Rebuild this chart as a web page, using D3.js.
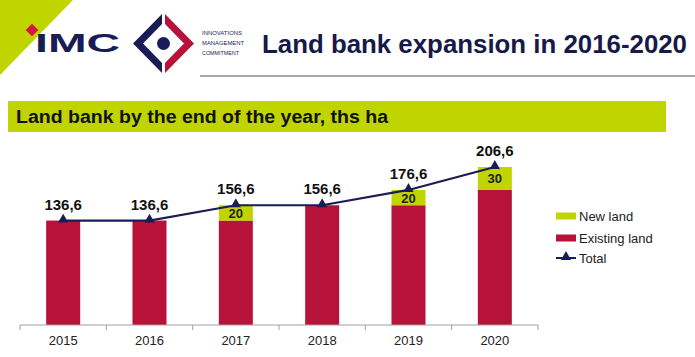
<!DOCTYPE html>
<html>
<head>
<meta charset="utf-8">
<script src="https://cdn.jsdelivr.net/npm/d3@7"></script>
<style>
  html, body { margin: 0; padding: 0; background: #fff; }
  svg { display: block; }
  text { font-family: "Liberation Sans", Arial, sans-serif; }
</style>
</head>
<body>
<svg id="chart" width="695" height="357"></svg>
<script>
const years = ["2015", "2016", "2017", "2018", "2019", "2020"];
const existingLand = [136.6, 136.6, 136.6, 156.6, 156.6, 176.6];
const newLand = [0, 0, 20, 0, 20, 30];
const totalLand = [136.6, 136.6, 156.6, 156.6, 176.6, 206.6];
const seriesNames = ["New land", "Existing land", "Total"];
const pageTitle = "Land bank expansion in 2016-2020";
const chartTitle = "Land bank by the end of the year, ths ha";

const GREEN = "#c0d400", RED = "#b7133a", NAVY = "#1a1c55";

const svg = d3.select("#chart");
svg.append("rect").attr("width", 695).attr("height", 357).attr("fill", "#fff");

// decorative header
svg.append("polygon").attr("points", "0,0 73,0 0,75").attr("fill", GREEN);
svg.append("line").attr("x1", 200).attr("x2", 695).attr("y1", 76).attr("y2", 76)
  .attr("stroke", "#a4a7ab").attr("stroke-width", 2);

// logo
const logo = svg.append("g");
logo.append("rect").attr("x", -4.5).attr("y", -4.5).attr("width", 9).attr("height", 9)
  .attr("fill", "#d2163e").attr("transform", "translate(32,30) rotate(45)");
logo.append("text").attr("x", 35).attr("y", 52).text("IMC")
  .attr("font-family", "'DejaVu Sans', sans-serif").attr("font-weight", "bold")
  .attr("font-size", 25).attr("fill", NAVY)
  .attr("textLength", 85).attr("lengthAdjust", "spacingAndGlyphs");
logo.append("polygon").attr("points", "162,14 133,43.5 162,73 162,63 143,43.5 162,24").attr("fill", NAVY);
logo.append("polygon").attr("points", "165,14 194,43.5 165,73 165,63 184,43.5 165,24").attr("fill", RED);
logo.append("circle").attr("cx", 163.5).attr("cy", 43.5).attr("r", 6.5).attr("fill", NAVY);
[["INNOVATIONS", 35, 40], ["MANAGEMENT", 45, 42], ["COMMITMENT", 55, 37]].forEach(([t, y, w]) => {
  logo.append("text").attr("x", 202).attr("y", y).text(t)
    .attr("font-size", 6).attr("fill", NAVY)
    .attr("textLength", w).attr("lengthAdjust", "spacingAndGlyphs");
});

svg.append("text").attr("x", 262).attr("y", 53).text(pageTitle)
  .attr("font-size", 25).attr("font-weight", "bold").attr("fill", "#171a48")
  .attr("textLength", 425).attr("lengthAdjust", "spacingAndGlyphs");

// subtitle band
svg.append("rect").attr("x", 8).attr("y", 101).attr("width", 658).attr("height", 31).attr("fill", GREEN);
svg.append("text").attr("x", 16).attr("y", 123).text(chartTitle)
  .attr("font-size", 18).attr("font-weight", "bold").attr("fill", "#111")
  .attr("textLength", 372).attr("lengthAdjust", "spacingAndGlyphs");

// chart
const x = d3.scaleBand().domain(years).range([20, 538]).paddingInner(0.606).paddingOuter(0.303);
const y = d3.scaleLinear().domain([0, 206.6]).range([325, 167]);
const fmt = v => d3.format(".1f")(v).replace(".", ",");

const rows = years.map((yr, i) => ({ yr, ex: existingLand[i], nw: newLand[i], tot: totalLand[i] }));
const stack = d3.stack().keys(["ex", "nw"])(rows);
const colors = { ex: RED, nw: GREEN };

stack.forEach(layer => {
  svg.append("g").selectAll("rect").data(layer).join("rect")
    .attr("x", d => x(d.data.yr))
    .attr("width", x.bandwidth())
    .attr("y", d => y(d[1]))
    .attr("height", d => y(d[0]) - y(d[1]))
    .attr("fill", colors[layer.key]);
});

// new land labels
svg.append("g").selectAll("text").data(rows.filter(r => r.nw > 0)).join("text")
  .attr("x", d => x(d.yr) + x.bandwidth() / 2)
  .attr("y", d => y(d.ex + d.nw / 2) + 5)
  .attr("text-anchor", "middle").attr("font-size", 13).attr("font-weight", "bold").attr("fill", "#222")
  .text(d => d.nw);

// axis
const axisG = svg.append("g").attr("transform", "translate(0,325)");
const axis = d3.axisBottom(x).tickSize(0).tickPadding(10);
axisG.call(axis);
axisG.select(".domain").remove();
axisG.append("line").attr("x1", 20).attr("x2", 538).attr("stroke", "#a0a0a0");
const bounds = years.map(yr => x(yr) - x.step() * x.paddingInner() / 2).concat([538]);
axisG.selectAll(".bt").data(bounds).join("line").attr("class", "bt")
  .attr("x1", d => d).attr("x2", d => d).attr("y1", 0).attr("y2", 5).attr("stroke", "#a0a0a0");
axisG.selectAll(".tick text").attr("font-size", 13).attr("fill", "#222")
  .attr("font-family", "'Liberation Sans', Arial, sans-serif").attr("dy", "0.71em").attr("y", 11);

// total line
const cx = yr => x(yr) + x.bandwidth() / 2;
svg.append("path").datum(rows)
  .attr("d", d3.line().x(d => cx(d.yr)).y(d => y(d.tot)))
  .attr("fill", "none").attr("stroke", NAVY).attr("stroke-width", 2.2);
const tri = d3.symbol().type(d3.symbolTriangle).size(45);
svg.append("g").selectAll("path").data(rows).join("path")
  .attr("d", tri).attr("transform", d => `translate(${cx(d.yr)},${y(d.tot) - 1})`).attr("fill", NAVY);
svg.append("g").selectAll("text").data(rows).join("text")
  .attr("x", d => cx(d.yr)).attr("y", d => y(d.tot) - 11)
  .attr("text-anchor", "middle").attr("font-size", 15).attr("font-weight", "bold").attr("fill", "#111")
  .text(d => fmt(d.tot));

// legend
const lg = svg.append("g").attr("transform", "translate(556,0)");
const legY = [216, 238, 258];
lg.append("rect").attr("x", 0).attr("y", legY[0] - 3.5).attr("width", 20).attr("height", 7).attr("fill", GREEN);
lg.append("rect").attr("x", 0).attr("y", legY[1] - 3.5).attr("width", 20).attr("height", 7).attr("fill", RED);
lg.append("line").attr("x1", 0).attr("x2", 20).attr("y1", legY[2]).attr("y2", legY[2]).attr("stroke", NAVY).attr("stroke-width", 2);
lg.append("path").attr("d", tri).attr("transform", `translate(10,${legY[2] - 1})`).attr("fill", NAVY);
seriesNames.forEach((n, i) => {
  lg.append("text").attr("x", 23).attr("y", legY[i] + 4.5).text(n)
    .attr("font-size", 13).attr("fill", "#222");
});
</script>
</body>
</html>
